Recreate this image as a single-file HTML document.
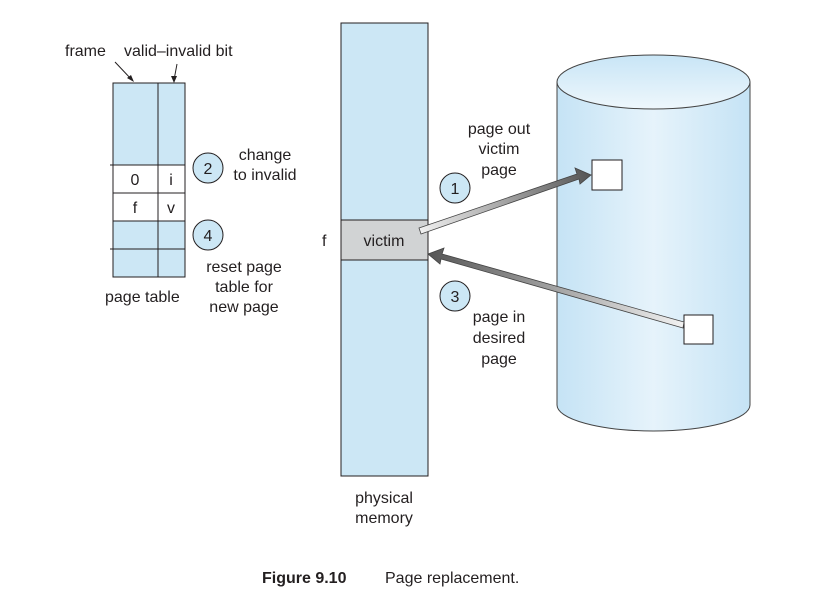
<!DOCTYPE html>
<html><head><meta charset="utf-8"><style>
body{margin:0;background:#fff}
svg text{font-family:"Liberation Sans",sans-serif;font-size:16px;fill:#231f20}
</style></head><body>
<svg width="820" height="604" viewBox="0 0 820 604" xmlns="http://www.w3.org/2000/svg">
<defs>
<linearGradient id="cyl" x1="0" x2="1" y1="0" y2="0">
<stop offset="0" stop-color="#c5e3f5"/><stop offset="0.5" stop-color="#e6f3fb"/><stop offset="1" stop-color="#c5e3f5"/></linearGradient>
<linearGradient id="top" x1="0" x2="0" y1="0" y2="1">
<stop offset="0" stop-color="#c8e5f6"/><stop offset="1" stop-color="#eef7fc"/></linearGradient>
<linearGradient id="a1" x1="420" y1="232" x2="590" y2="173" gradientUnits="userSpaceOnUse">
<stop offset="0" stop-color="#f2f2f2"/><stop offset="1" stop-color="#555"/></linearGradient>
<linearGradient id="a3" x1="684" y1="326" x2="428" y2="254" gradientUnits="userSpaceOnUse">
<stop offset="0" stop-color="#f2f2f2"/><stop offset="1" stop-color="#555"/></linearGradient>
</defs>
<!-- page table -->
<rect x="113" y="83" width="72" height="194" fill="#cce7f5" stroke="#231f20" stroke-width="1"/>
<rect x="113" y="165" width="72" height="56" fill="#fff" stroke="#231f20"/>
<line x1="113" y1="193" x2="185" y2="193" stroke="#231f20"/>
<line x1="113" y1="249" x2="185" y2="249" stroke="#231f20"/>
<line x1="158" y1="83" x2="158" y2="277" stroke="#231f20"/>
<line x1="110" y1="165" x2="113" y2="165" stroke="#231f20"/>
<line x1="110" y1="249" x2="113" y2="249" stroke="#231f20"/>
<text x="135" y="185" text-anchor="middle">0</text><text x="171" y="185" text-anchor="middle">i</text>
<text x="135" y="213" text-anchor="middle">f</text><text x="171" y="213" text-anchor="middle">v</text>
<text x="65" y="56">frame</text><text x="124" y="56">valid–invalid bit</text>
<path d="M115 62 L132 80" stroke="#231f20" fill="none"/><path d="M127 78 L134 82 L131 75 Z" fill="#231f20"/>
<path d="M177 64 L174 80" stroke="#231f20" fill="none"/><path d="M171 76 L174 83 L177 76 Z" fill="#231f20"/>
<text x="105" y="302">page table</text>
<circle cx="208" cy="168" r="15" fill="#cce7f5" stroke="#231f20"/><text x="208" y="174" text-anchor="middle">2</text>
<text x="265" y="160" text-anchor="middle">change</text><text x="265" y="180" text-anchor="middle">to invalid</text>
<circle cx="208" cy="235" r="15" fill="#cce7f5" stroke="#231f20"/><text x="208" y="241" text-anchor="middle">4</text>
<text x="244" y="272" text-anchor="middle">reset page</text><text x="244" y="292" text-anchor="middle">table for</text><text x="244" y="312" text-anchor="middle">new page</text>
<!-- memory -->
<rect x="341" y="23" width="87" height="453" fill="#cce7f5" stroke="#231f20"/>
<rect x="341" y="220" width="87" height="40" fill="#d1d3d4" stroke="#231f20"/>
<text x="384" y="246" text-anchor="middle">victim</text>
<text x="322" y="246">f</text>
<text x="384" y="503" text-anchor="middle">physical</text><text x="384" y="523" text-anchor="middle">memory</text>
<!-- cylinder -->
<path d="M557 82 L557 405 A96.5 26 0 0 0 750 405 L750 82 Z" fill="url(#cyl)" stroke="#444"/>
<ellipse cx="653.5" cy="82" rx="96.5" ry="27" fill="url(#top)" stroke="#444"/>
<rect x="592" y="160" width="30" height="30" fill="#fff" stroke="#231f20"/>
<rect x="684" y="315" width="29" height="29" fill="#fff" stroke="#231f20"/>
<!-- arrows -->
<polygon points="419,228 577,174 575,168 591,175 580,184 579,179 421,234" fill="url(#a1)" stroke="#444" stroke-width="0.8"/>
<polygon points="684,322 442,254 444,248 428,254 440,264 441,259 683,328" fill="url(#a3)" stroke="#444" stroke-width="0.8"/>
<circle cx="455" cy="188" r="15" fill="#cce7f5" stroke="#231f20"/><text x="455" y="194" text-anchor="middle">1</text>
<text x="499" y="134" text-anchor="middle">page out</text><text x="499" y="154" text-anchor="middle">victim</text><text x="499" y="175" text-anchor="middle">page</text>
<circle cx="455" cy="296" r="15" fill="#cce7f5" stroke="#231f20"/><text x="455" y="302" text-anchor="middle">3</text>
<text x="499" y="322" text-anchor="middle">page in</text><text x="499" y="343" text-anchor="middle">desired</text><text x="499" y="364" text-anchor="middle">page</text>
<text x="262" y="583" style="font-weight:bold">Figure 9.10</text><text x="385" y="583">Page replacement.</text>
</svg>
</body></html>
